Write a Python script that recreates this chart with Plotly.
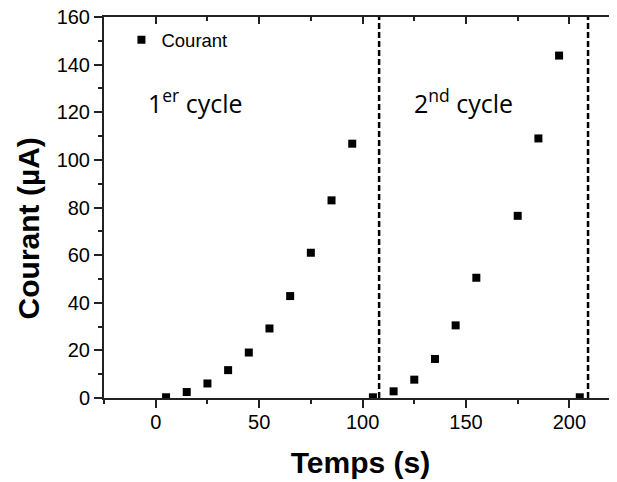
import plotly.graph_objects as go

# temps (s) et courant (µA)
temps = [5, 15, 25, 35, 45, 55, 65, 75, 85, 95, 105,
         115, 125, 135, 145, 155, 175, 185, 195, 205]
courant = [0.3, 2.5, 6.1, 11.7, 19.1, 29.2, 42.8, 61, 83, 106.8, 0.3,
           2.8, 7.7, 16.4, 30.5, 50.5, 76.5, 109, 143.8, 0.3]

fin_cycles = [108, 209]
labels_cycles = ["1<sup>er</sup> cycle", "2<sup>nd</sup> cycle"]
pos_labels_x = [19.4, 149]
pos_labels_y = [124.6, 124.6]

x_range = [-25, 223]
y_range = [0, 160]

police = "Liberation Sans, Arial, sans-serif"

fig = go.Figure()

fig.add_trace(go.Scatter(
    x=temps, y=courant,
    mode="markers",
    name="Courant",
    marker=dict(symbol="square", size=8, color="black"),
))

# trace invisible pour afficher les axes miroirs (haut / droite)
fig.add_trace(go.Scatter(
    x=temps, y=courant, xaxis="x2", yaxis="y2",
    mode="markers", marker=dict(opacity=0),
    showlegend=False, hoverinfo="skip",
))

for xc in fin_cycles:
    fig.add_shape(type="line", xref="x", yref="paper",
                  x0=xc, x1=xc, y0=0, y1=1,
                  line=dict(color="black", width=2.5, dash="6px,3px"))

for txt, xa, ya in zip(labels_cycles, pos_labels_x, pos_labels_y):
    fig.add_annotation(x=xa, y=ya, text=txt, showarrow=False,
                       font=dict(family="Open Sans", size=25, color="black"))

# titre de l'axe y (centré un peu plus bas que l'axe, comme dans Origin)
fig.add_annotation(xref="paper", yref="paper", x=-0.147, y=0.444,
                   xanchor="center", yanchor="middle",
                   text="<b>Courant (µA)</b>", textangle=-90, showarrow=False,
                   font=dict(size=30, color="black"))

fig.update_layout(
    width=609, height=474,
    margin=dict(l=96, r=0, t=9, b=84),
    paper_bgcolor="white",
    plot_bgcolor="white",
    font=dict(family=police, color="black"),
    showlegend=True,
    legend=dict(x=0.034, y=0.989, xanchor="left", yanchor="top",
                font=dict(size=18.5), bgcolor="rgba(0,0,0,0)",
                itemwidth=30),
    xaxis=dict(
        range=x_range, dtick=50, tick0=0, automargin=False,
        showgrid=False, zeroline=False, mirror=True,
        showline=True, linecolor="#222", linewidth=2,
        ticks="outside", ticklen=8, tickwidth=1.5, tickcolor="#222",
        tickfont=dict(size=20), ticklabelstandoff=-3,
        minor=dict(dtick=25, ticks="outside", ticklen=4, tickcolor="#222"),
        title=dict(text="<b>Temps (s)</b>", font=dict(size=30), standoff=20),
    ),
    yaxis=dict(
        range=y_range, dtick=20, tick0=0, automargin=False,
        showgrid=False, zeroline=False, ticklabeloverflow="allow",
        showline=True, linecolor="#222", linewidth=2,
        ticks="outside", ticklen=8, tickwidth=1.5, tickcolor="#222",
        tickfont=dict(size=20),
        minor=dict(dtick=10, ticks="outside", ticklen=4, tickcolor="#222"),
    ),
    xaxis2=dict(
        overlaying="x", side="top", range=x_range,
        dtick=50, tick0=0, showgrid=False, zeroline=False, automargin=False,
        showline=True, linecolor="#222", linewidth=2,
        ticks="inside", ticklen=7, tickwidth=1.5, tickcolor="#222",
        showticklabels=False,
        minor=dict(dtick=25, ticks="inside", ticklen=4, tickcolor="#222"),
    ),
    yaxis2=dict(
        overlaying="y", side="right", range=y_range,
        dtick=20, tick0=0, showgrid=False, zeroline=False, automargin=False,
        showline=False,
        ticks="inside", ticklen=6, tickwidth=1.5, tickcolor="#222",
        showticklabels=False,
        minor=dict(dtick=10, ticks="inside", ticklen=3, tickcolor="#222"),
    ),
)

fig.write_html("out.html")
